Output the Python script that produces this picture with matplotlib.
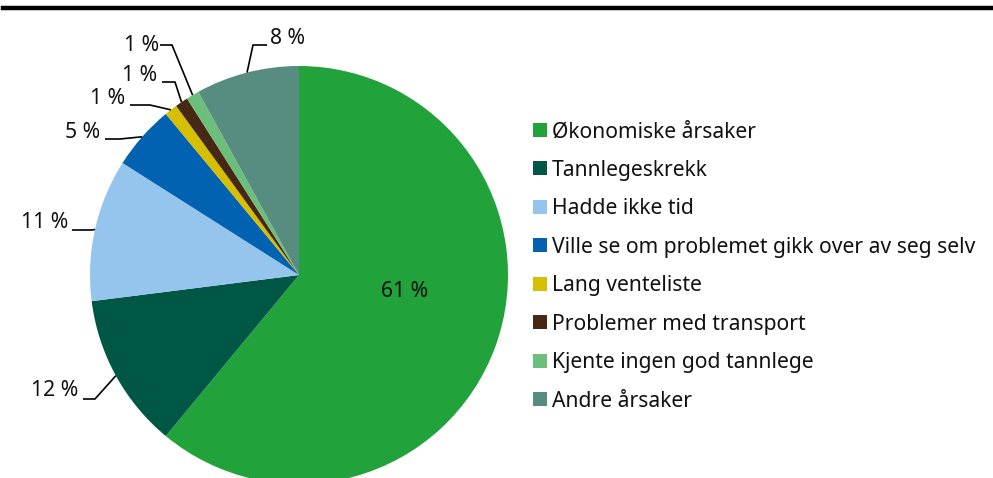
import numpy as np
import matplotlib
matplotlib.use("Agg")
import matplotlib.pyplot as plt
from matplotlib.patches import Rectangle

plt.rcParams['font.family'] = ['Noto Sans', 'DejaVu Sans']

categories = [
    "Økonomiske årsaker",
    "Tannlegeskrekk",
    "Hadde ikke tid",
    "Ville se om problemet gikk over av seg selv",
    "Lang venteliste",
    "Problemer med transport",
    "Kjente ingen god tannlege",
    "Andre årsaker",
]
shares = [61, 12, 11, 5, 1, 1, 1, 8]
colors = ["#22A23A", "#005745", "#95C5EC", "#0062B0", "#D6BE00",
          "#472815", "#6BBF7A", "#578C80"]

W, H = 993, 478
CX, CY, R = 299, 275, 209  # pie centre and radius in pixels
FS = 15.2


def px(x, y):
    """Pixel position -> data coordinates (pie radius = 1)."""
    return (x - CX) / R, (CY - y) / R


fig = plt.figure(figsize=(W / 100, H / 100), dpi=100)
ax = fig.add_axes([0, 0, 1, 1])

wedges, _ = ax.pie(shares, colors=colors, startangle=90, counterclock=False,
                   radius=1.0, wedgeprops=dict(linewidth=0))
ax.set_xlim(-CX / R, (W - CX) / R)
ax.set_ylim((CY - H) / R, CY / R)
ax.set_aspect("auto")
ax.axis("off")

# top rule
fig.add_artist(plt.Line2D([3 / W, 1], [1 - 8 / H, 1 - 8 / H], color="black",
                          linewidth=3.2, transform=fig.transFigure))

# value labels: text centre and elbow of the leader (pixels)
label_layout = {
    0: dict(text=(405, 291.5), elbow=None),
    1: dict(text=(55, 391), elbow=[(83, 399), (95, 399)]),
    2: dict(text=(44.5, 222), elbow=[(72, 230), (92, 230)]),
    3: dict(text=(83, 132), elbow=[(105, 139), (120, 139)]),
    4: dict(text=(107.5, 98), elbow=[(130, 105), (150, 105)]),
    5: dict(text=(140, 75), elbow=[(162, 82), (175, 82)]),
    6: dict(text=(141.5, 45), elbow=[(160, 45), (172, 45)]),
    7: dict(text=(287, 38), elbow=[(267, 45), (253, 45)]),
}

total = sum(shares)
cum = np.cumsum([0] + shares)
for i, v in enumerate(shares):
    lay = label_layout[i]
    tx, ty = px(*lay["text"])
    ax.text(tx, ty, f"{v} %", ha="center", va="center", fontsize=FS,
            color="#111111")
    if lay["elbow"]:
        mid = (cum[i] + v / 2) / total
        ang = np.deg2rad(90 - 360 * mid)
        pts = [px(*p) for p in lay["elbow"]] + [(np.cos(ang), np.sin(ang))]
        xs, ys = zip(*pts)
        ax.plot(xs, ys, color="black", linewidth=1.2, solid_capstyle="butt")

# legend
row0, step = 129.7, 38.5
for i, (lab, col) in enumerate(zip(categories, colors)):
    yc = row0 + i * step
    x0, y0 = px(533, yc + 7)
    ax.add_patch(Rectangle((x0, y0), 14 / R, 14 / R, facecolor=col,
                           edgecolor="none"))
    tx, ty = px(552, yc + 7.5)
    ax.text(tx, ty, lab, ha="left", va="baseline", fontsize=FS,
            color="#111111")

fig.savefig("out.png", dpi=100)
